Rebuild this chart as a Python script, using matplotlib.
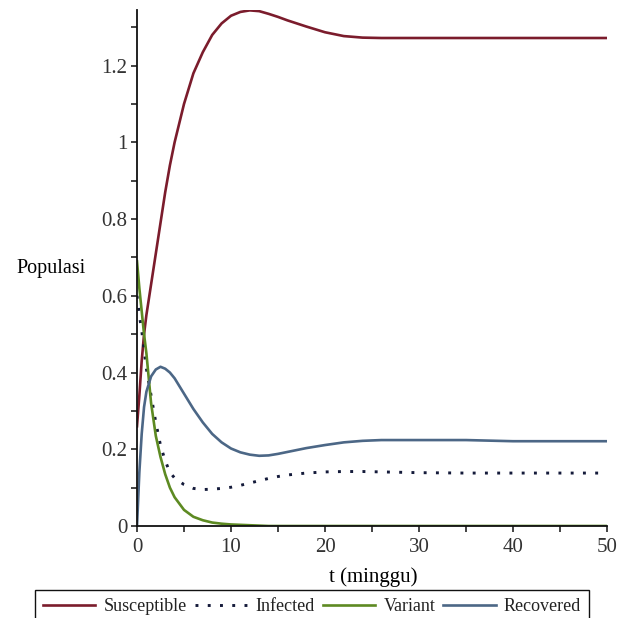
"""
SIVR model trajectories (Populasi vs t in minggu), redrawn in Maple's plain style
"""

import matplotlib
matplotlib.use("Agg")
from matplotlib import pyplot as plt
from matplotlib.ticker import MultipleLocator, FormatStrFormatter

# values

t = [0, 0.25, 0.5, 0.75, 1, 1.5, 2, 2.5, 3, 3.5, 4, 5, 6, 7, 8, 9, 10, 11, 12,
     13, 14, 15, 16, 18, 20, 22, 24, 26, 30, 35, 40, 45, 50]

susceptible = [0.26, 0.34, 0.43, 0.50, 0.55, 0.63, 0.71, 0.79, 0.87, 0.94, 1.00,
               1.10, 1.18, 1.235, 1.28, 1.31, 1.33, 1.34, 1.344, 1.342, 1.335,
               1.327, 1.318, 1.302, 1.287, 1.277, 1.273, 1.272, 1.272, 1.272,
               1.272, 1.272, 1.272]

infected = [0.60, 0.55, 0.51, 0.46, 0.41, 0.34, 0.27, 0.21, 0.17, 0.14, 0.125,
            0.108, 0.098, 0.095, 0.096, 0.098, 0.101, 0.106, 0.112, 0.118, 0.124,
            0.129, 0.133, 0.138, 0.141, 0.142, 0.142, 0.141, 0.139, 0.138,
            0.138, 0.138, 0.138]

variant = [0.69, 0.62, 0.56, 0.50, 0.45, 0.32, 0.235, 0.18, 0.135, 0.10, 0.075,
           0.042, 0.024, 0.015, 0.009, 0.006, 0.004, 0.003, 0.002, 0.001, 0.0,
           0.0, 0.0, 0.0, 0.0, 0.0, 0.0, 0.0, 0.0, 0.0, 0.0, 0.0, 0.0]

recovered = [0.0, 0.14, 0.24, 0.31, 0.35, 0.39, 0.408, 0.415, 0.41, 0.40, 0.385,
             0.345, 0.305, 0.27, 0.24, 0.218, 0.202, 0.192, 0.186, 0.183, 0.184,
             0.188, 0.193, 0.203, 0.211, 0.218, 0.222, 0.224, 0.224, 0.224,
             0.221, 0.221, 0.221]

# styling

plt.rcParams['font.family'] = ['Liberation Serif', 'DejaVu Serif']
plt.rcParams['text.color'] = '#222222'

fig = plt.figure(figsize=(6.2, 6.18), dpi=100)
ax = fig.add_axes([137 / 620, 1 - 526 / 618, 470 / 620, 516 / 618])

lw = 1.9
ax.plot(t, susceptible, color='#7b1c2c', lw=lw, label='Susceptible')
ax.plot(t, infected, color='#141a3a', lw=2.1, linestyle=(0, (1, 3.2)), label='Infected')
ax.plot(t, variant, color='#5d8a22', lw=lw, label='Variant')
ax.plot(t, recovered, color='#4c6786', lw=lw, label='Recovered')

ax.set_xlim(0, 50)
ax.set_ylim(0, 1.345)

for side in ['top', 'right']:
    ax.spines[side].set_visible(False)
for side in ['left', 'bottom']:
    ax.spines[side].set_linewidth(1.3)
    ax.spines[side].set_color('#111111')

ax.xaxis.set_major_locator(MultipleLocator(10))
ax.xaxis.set_minor_locator(MultipleLocator(5))
ax.yaxis.set_major_locator(MultipleLocator(0.2))
ax.yaxis.set_minor_locator(MultipleLocator(0.1))
ax.yaxis.set_major_formatter(FormatStrFormatter('%g'))
ax.tick_params(which='both', direction='out', length=4, width=1.1, color='#111111',
               labelsize=15, labelcolor='#333333')
ax.tick_params(axis='x', pad=5)
ax.tick_params(axis='y', pad=3)

ax.set_ylabel('Populasi', rotation=0, fontsize=14.5, ha='center', va='center')
ax.yaxis.set_label_coords(-0.183, 0.5)
ax.set_xlabel('t (minggu)', fontsize=15, va='center')
ax.xaxis.set_label_coords(0.502, -0.099)

fig.legend(loc='upper left', bbox_to_anchor=(35 / 620, 1 - 590 / 618), ncol=4,
           fontsize=13, frameon=True, fancybox=False, edgecolor='#111111',
           framealpha=1, handlelength=2.9, handletextpad=0.45, columnspacing=0.45,
           borderpad=0.45, borderaxespad=0)

fig.savefig('out.png', dpi=100)
